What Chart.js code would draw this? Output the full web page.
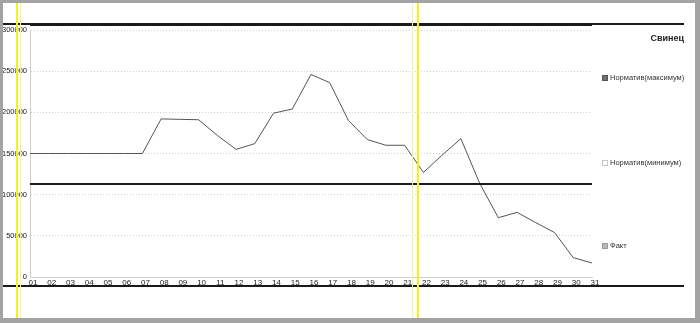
<!DOCTYPE html>
<html>
<head>
<meta charset="utf-8">
<script src="https://cdn.jsdelivr.net/npm/chart.js@4.4.1/dist/chart.umd.min.js"></script>
<style>
  html, body { margin: 0; padding: 0; background: #fff; }
  #wrap { position: relative; width: 700px; height: 323px; overflow: hidden; }
  #grafico { position: absolute; left: 0; top: 0; }
  .frame { position: absolute; background: #a3a3a3; }
  .rule { position: absolute; background: #1a1a1a; height: 2px; }
  .yellow { position: absolute; top: 3px; bottom: 4px; }
  #titulo { position: absolute; left: 640px; top: 33px; width: 44px; text-align: right;
            font: bold 9px "Liberation Sans", Arial, sans-serif; color: #222; }
  #legenda .item { position: absolute; left: 602px; font: 7.5px "Liberation Sans", Arial, sans-serif;
                   color: #333; white-space: nowrap; line-height: 8px; }
  #legenda .box { display: inline-block; width: 6px; height: 6px; margin-right: 2px;
                  vertical-align: -1px; box-sizing: border-box; }
</style>
</head>
<body>
<div id="wrap">
  <canvas id="grafico" width="700" height="323"></canvas>
  <!-- linhas pretas do quadro do relatório -->
  <div class="rule" style="left:0; width:684px; top:23px;"></div>
  <div class="rule" style="left:0; width:684px; top:285px;"></div>
  <!-- marcas amarelas do escaneamento -->
  <div class="yellow" style="left:16px; width:2px; background:#f2f21a;"></div>
  <div class="yellow" style="left:20px; width:1px; background:#f6f68a;"></div>
  <div class="yellow" style="left:412px; width:1px; background:#f6f68a;"></div>
  <div class="yellow" style="left:417px; width:2px; background:#f2f21a;"></div>
  <!-- moldura cinza -->
  <div class="frame" style="left:0; top:0; width:700px; height:3px;"></div>
  <div class="frame" style="left:0; top:0; width:3px; height:323px;"></div>
  <div class="frame" style="left:695px; top:0; width:5px; height:323px;"></div>
  <div class="frame" style="left:0; top:318px; width:700px; height:5px;"></div>
  <div id="titulo">Свинец</div>
  <div id="legenda"></div>
</div>
<script>
// dias do mês
const dias = ['01','02','03','04','05','06','07','08','09','10','11','12','13','14','15','16',
              '17','18','19','20','21','22','23','24','25','26','27','28','29','30','31'];

// Факт - valores
const fato = [150000, 150000, 150000, 150000, 150000, 150000, 150000, 192000, 191500, 191000,
              172000, 155000, 162000, 199000, 204000, 246000, 236000, 190000, 167000, 160000,
              160000, 127000, 148000, 168000, 114000, 72000, 78500, 66000, 54000, 23500, 17000];

// normativos
const normMax = 306000;
const normMin = 113000;

const yTicks = [0, 50000, 100000, 150000, 200000, 250000, 300000];

const nomes = ['Норматив(максимум)', 'Норматив(минимум)', 'Факт'];
const coresLegenda = [
    { bg: '#6f6f6f', border: '#555' },
    { bg: '#ffffff', border: '#c8c8c8' },
    { bg: '#b9b9b9', border: '#9a9a9a' }
];
const legendaTop = [74, 159, 242];

const fonte = '"Liberation Sans", Arial, sans-serif';

new Chart(document.getElementById('grafico'), {
    type: 'line',
    data: {
        labels: dias,
        datasets: [{
            label: nomes[0],
            data: dias.map(() => normMax),
            borderColor: '#1a1a1a',
            borderWidth: 2,
            pointRadius: 0,
            clip: false
        }, {
            label: nomes[1],
            data: dias.map(() => normMin),
            borderColor: '#1a1a1a',
            borderWidth: 2,
            pointRadius: 0
        }, {
            label: nomes[2],
            data: fato,
            borderColor: '#555555',
            borderWidth: 1,
            pointRadius: 0,
            tension: 0
        }]
    },
    options: {
        responsive: false,
        animation: false,
        devicePixelRatio: 1,
        layout: { padding: { top: 30, right: 108, bottom: 0, left: 0 } },
        plugins: {
            legend: { display: false },
            tooltip: { enabled: false }
        },
        scales: {
            x: {
                offset: false,
                grid: { display: false, drawTicks: false },
                border: { display: true, color: '#cfcfcf', dash: [1, 2] },
                ticks: {
                    autoSkip: false,
                    maxRotation: 0,
                    padding: 1,
                    labelOffset: 3,
                    color: '#222',
                    font: { family: fonte, size: 8 }
                },
                afterFit: (s) => { s.height = 46; }
            },
            y: {
                min: 0,
                max: 300000,
                afterBuildTicks: (s) => { s.ticks = yTicks.map(v => ({ value: v })); },
                grid: { color: '#d0d0d0', drawTicks: false },
                // no v4 o tracejado da grade vem de border.dash
                border: { display: true, color: '#cfcfcf', dash: [1, 2] },
                ticks: {
                    padding: 3,
                    color: '#1a1a1a',
                    font: { family: fonte, size: 7.5 },
                    callback: (v) => String(v)
                },
                afterFit: (s) => { s.width = 30; }
            }
        }
    }
});

// legenda em HTML, posicionada como no relatório
const legenda = document.getElementById('legenda');
nomes.forEach((nome, i) => {
    const item = document.createElement('div');
    item.className = 'item';
    item.style.top = legendaTop[i] + 'px';
    const box = document.createElement('span');
    box.className = 'box';
    box.style.background = coresLegenda[i].bg;
    box.style.border = '1px solid ' + coresLegenda[i].border;
    item.appendChild(box);
    item.appendChild(document.createTextNode(nome));
    legenda.appendChild(item);
});
</script>
</body>
</html>
